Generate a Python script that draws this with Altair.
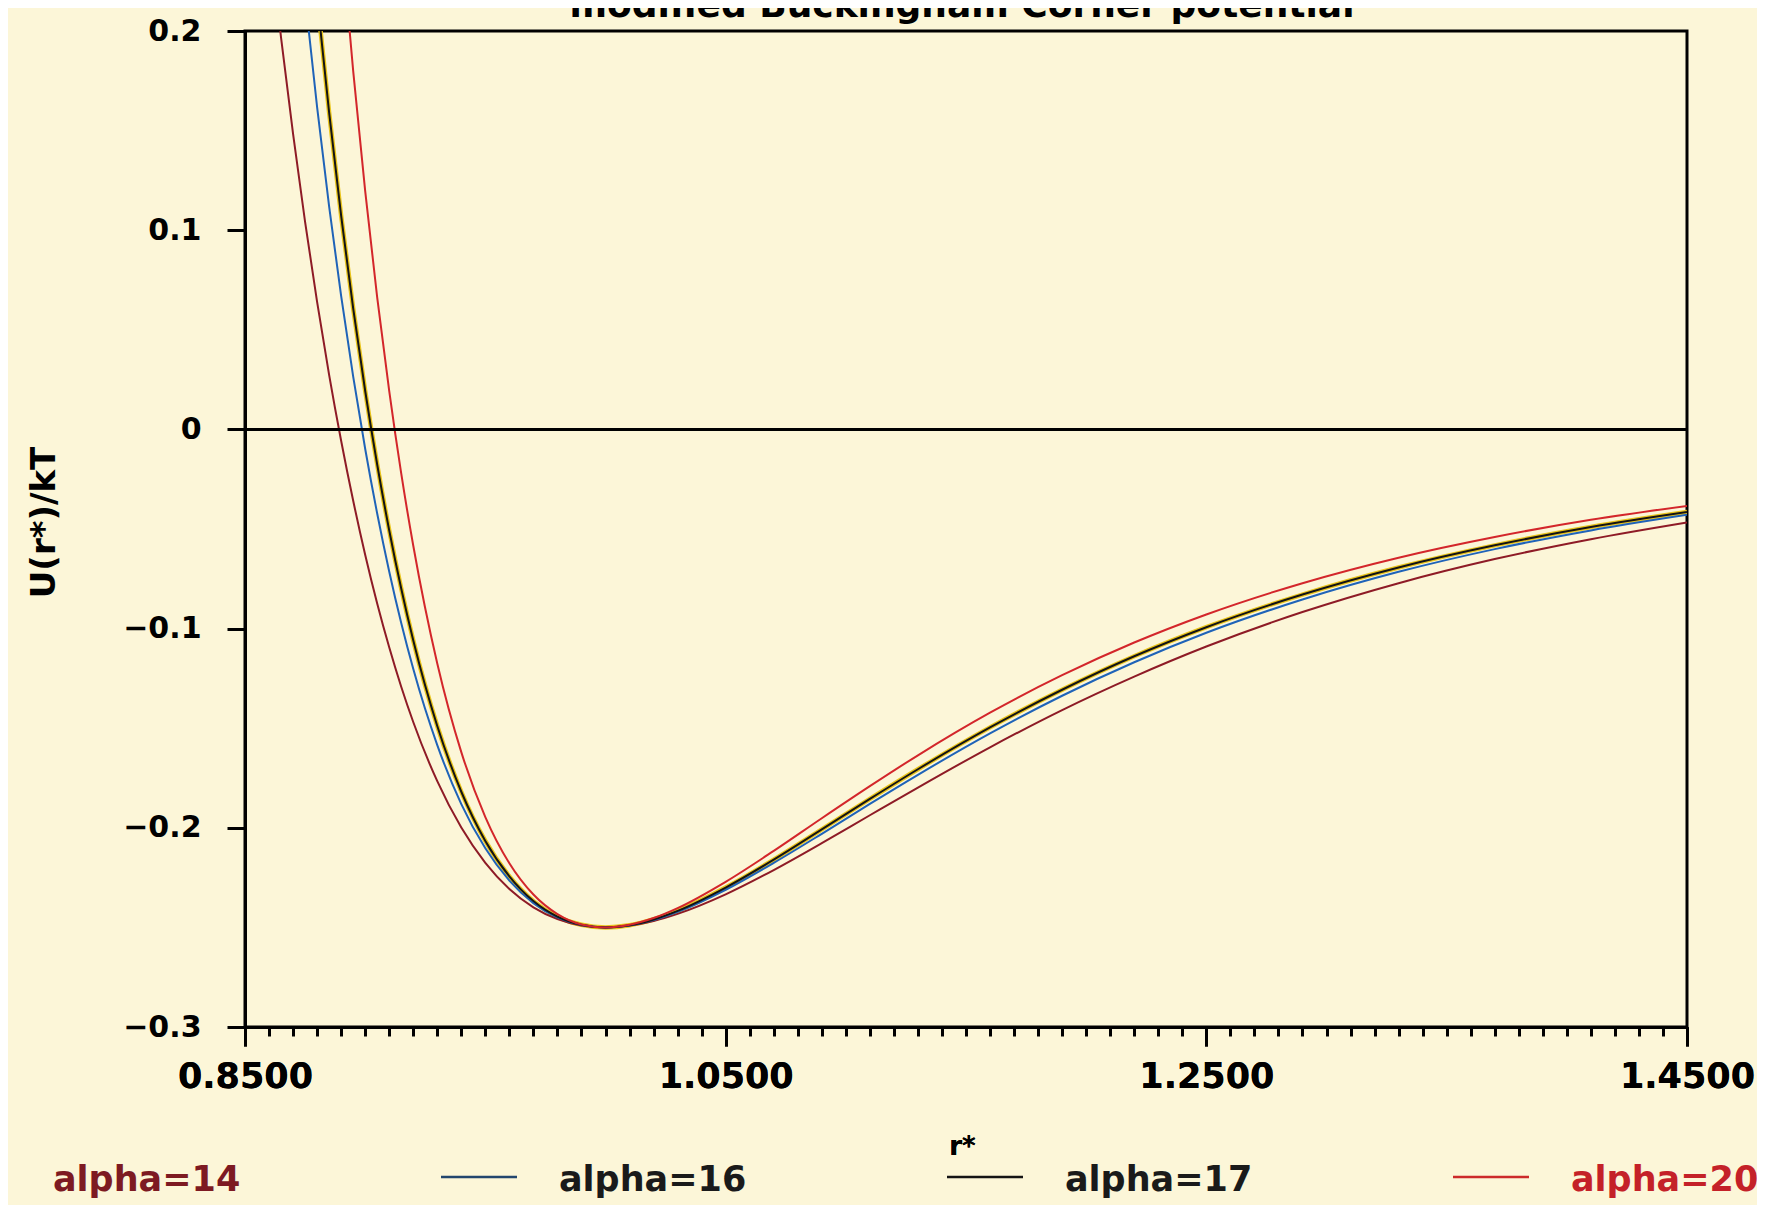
import pandas as pd
import altair as alt

# ---- data ----
r_grid = [0.86, 0.865, 0.87, 0.875, 0.88, 0.885, 0.89, 0.895, 0.90, 0.905, 0.91, 0.915,
          0.92, 0.93, 0.94, 0.95, 0.96, 0.97, 0.98, 0.99, 1.00, 1.01, 1.02, 1.03, 1.05,
          1.07, 1.09, 1.11, 1.13, 1.16, 1.19, 1.22, 1.25, 1.29, 1.33, 1.37, 1.41, 1.45]

u_alpha14 = [0.2497, 0.1967, 0.1483, 0.1042, 0.0640, 0.0274, -0.0057, -0.0357, -0.0629, -0.0874,
             -0.1094, -0.1292, -0.1469, -0.1766, -0.1999, -0.2176, -0.2307, -0.2399, -0.2458,
             -0.2490, -0.2500, -0.2491, -0.2468, -0.2432, -0.2334, -0.2212, -0.2077, -0.1937,
             -0.1798, -0.1596, -0.1409, -0.1241, -0.1090, -0.0917, -0.0772, -0.0651, -0.0551,
             -0.0467]
u_alpha16 = [0.4203, 0.3458, 0.2782, 0.2171, 0.1618, 0.1119, 0.0670, 0.0266, -0.0097, -0.0422,
             -0.0713, -0.0972, -0.1202, -0.1585, -0.1881, -0.2103, -0.2265, -0.2378, -0.2450,
             -0.2488, -0.2500, -0.2490, -0.2463, -0.2422, -0.2311, -0.2176, -0.2030, -0.1880,
             -0.1734, -0.1526, -0.1337, -0.1169, -0.1021, -0.0854, -0.0715, -0.0601, -0.0507,
             -0.0429]
u_alpha17 = [0.5184, 0.4310, 0.3520, 0.2809, 0.2168, 0.1591, 0.1073, 0.0609, 0.0194, -0.0176,
             -0.0506, -0.0799, -0.1059, -0.1489, -0.1819, -0.2066, -0.2244, -0.2368, -0.2446,
             -0.2487, -0.2500, -0.2489, -0.2460, -0.2417, -0.2300, -0.2160, -0.2008, -0.1855,
             -0.1706, -0.1496, -0.1307, -0.1139, -0.0993, -0.0829, -0.0693, -0.0582, -0.0490,
             -0.0415]
u_alpha20 = [0.8791, 0.7417, 0.6189, 0.5095, 0.4120, 0.3253, 0.2483, 0.1801, 0.1197, 0.0663,
             0.0193, -0.0221, -0.0583, -0.1175, -0.1620, -0.1946, -0.2178, -0.2335, -0.2433,
             -0.2485, -0.2500, -0.2487, -0.2453, -0.2403, -0.2271, -0.2116, -0.1952, -0.1791,
             -0.1636, -0.1422, -0.1234, -0.1070, -0.0929, -0.0772, -0.0644, -0.0540, -0.0454,
             -0.0384]

series_names = ["alpha=14", "alpha=16", "alpha=17", "alpha=20"]
x_major = [0.85, 1.05, 1.25, 1.45]
x_minor = [round(0.85 + 0.01 * i, 2) for i in range(61)]
y_ticks = [0.2, 0.1, 0, -0.1, -0.2, -0.3]
zero_level = [0]
title_text = "modified Buckingham Corner potential"
x_title = "r*"
y_title = "U(r*)/kT"

# ---- styles ----
FONT = "DejaVu Sans"
BG = "#FCF6D8"
curve_colors = ["#8e1b26", "#1f63b8", "#141414", "#d3262b"]
legend_text_colors = ["#7d1a22", "#1a1a1a", "#1a1a1a", "#c42128"]
legend_line_colors = ["#22466e", "#141414", "#cc2a2a"]

rows = []
for name, series in zip(series_names, [u_alpha14, u_alpha16, u_alpha17, u_alpha20]):
    for r, v in zip(r_grid, series):
        rows.append({"r": r, "u": v, "series": name})
df = pd.DataFrame(rows)

xscale = alt.Scale(domain=[0.85, 1.45], nice=False, zero=False)
yscale = alt.Scale(domain=[-0.3, 0.2], nice=False, zero=False)

x_axis = alt.Axis(values=x_major, format=".4f", orient="bottom", tickSize=19, tickWidth=3,
                  tickColor="black", domainWidth=3, domainColor="black", labelFont=FONT,
                  labelFontSize=35, labelFontWeight="bold", labelColor="black", labelPadding=13,
                  labelFlush=False, labelOverlap=False, grid=False, title=x_title, titleFont=FONT,
                  titleFontSize=26, titleFontWeight="bold", titleColor="black", titleX=717,
                  titleY=119, titleBaseline="middle")
x_minor_axis = alt.Axis(values=x_minor, orient="bottom", tickSize=9, tickWidth=3, tickColor="black",
                        labels=False, domain=False, grid=False, title=None)
y_axis = alt.Axis(values=y_ticks, tickSize=18, tickWidth=3, tickColor="black", domainWidth=3,
                  domainColor="black", labelFont=FONT, labelFontSize=30, labelFontWeight="bold",
                  labelColor="black", labelPadding=26, labelFlush=False,
                  labelExpr="abs(datum.value) < 1e-9 ? '0' : format(datum.value, '.1f')",
                  grid=False, title=y_title, titleFont=FONT, titleFontSize=34,
                  titleFontWeight="bold", titleColor="black", titleX=-201, titleY=491,
                  titleBaseline="middle", titleAngle=270)

base = alt.Chart(df)
yellow = base.transform_filter(alt.datum.series == "alpha=17").mark_line(
    clip=True, interpolate="monotone", color="#e9c41c", strokeWidth=4.5
).encode(
    x=alt.X("r:Q", scale=xscale, axis=x_axis),
    y=alt.Y("u:Q", scale=yscale, axis=y_axis),
    detail="series:N",
)
curves = base.mark_line(clip=True, interpolate="monotone", strokeWidth=2).encode(
    x=alt.X("r:Q", scale=xscale, axis=x_axis),
    y=alt.Y("u:Q", scale=yscale, axis=y_axis),
    color=alt.Color("series:N", scale=alt.Scale(domain=series_names, range=curve_colors), legend=None),
)
zero = alt.Chart(pd.DataFrame({"u": zero_level})).mark_rule(color="black", strokeWidth=3).encode(
    y=alt.Y("u:Q", scale=yscale, axis=y_axis)
)
minor = alt.Chart(pd.DataFrame({"t": x_minor})).mark_point(opacity=0).encode(
    x=alt.X("t:Q", scale=xscale, axis=x_minor_axis),
    y=alt.value(990),
)
inner = alt.layer(yellow, curves, zero, minor).resolve_axis(x="independent")

title = alt.Chart(pd.DataFrame({"t": [title_text]})).mark_text(
    font=FONT, fontSize=36, fontWeight="bold", color="black", align="center", baseline="alphabetic"
).encode(text="t:N", x=alt.value(717), y=alt.value(-14))

leg_df = pd.DataFrame({"label": series_names, "slot": [0, 1, 2, 3]})
slot_scale = alt.Scale(domain=[0, 3], range=[-192, 1326])
leg_text = alt.Chart(leg_df).mark_text(
    font=FONT, fontSize=35, fontWeight="bold", align="left", baseline="middle"
).encode(
    x=alt.X("slot:Q", scale=slot_scale, axis=None),
    y=alt.value(1149),
    text="label:N",
    color=alt.Color("label:N", scale=alt.Scale(domain=series_names, range=legend_text_colors), legend=None),
)
leg_line_df = leg_df[leg_df.label != "alpha=14"]
leg_lines = alt.Chart(leg_line_df).mark_rule(strokeWidth=2.5, xOffset=-118, x2Offset=-42).encode(
    x=alt.X("slot:Q", scale=slot_scale, axis=None),
    x2="slot:Q",
    y=alt.value(1146),
    color=alt.Color("label:N", scale=alt.Scale(domain=series_names[1:], range=legend_line_colors), legend=None),
)

chart = alt.layer(inner, title, leg_text, leg_lines).resolve_scale(
    x="independent", color="independent").properties(
    width=1442, height=996, background=BG,
    padding={"left": 237, "top": 23, "right": 70, "bottom": 178},
    autosize=alt.AutoSizeParams(type="none"),
).configure_view(stroke="black", strokeWidth=3)

chart.save("out.html", embed_options={"renderer": "svg", "actions": False})
